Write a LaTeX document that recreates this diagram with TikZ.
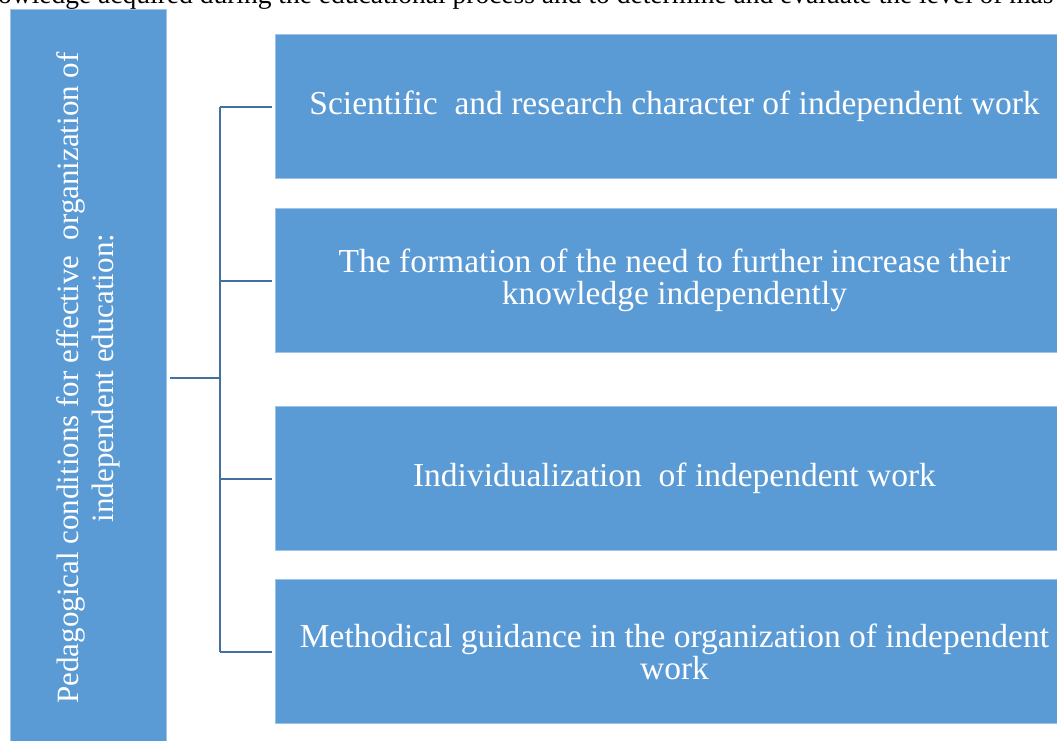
\documentclass[tikz,border=0pt]{standalone}
\usepackage{fontspec}
\setmainfont{Liberation Serif}
\definecolor{boxblue}{HTML}{5B9BD5}
\definecolor{boxedge}{HTML}{9DC3E6}
\definecolor{connblue}{HTML}{41719C}
\begin{document}
\begin{tikzpicture}[x=1pt,y=-1pt,
  bluebox/.style={rectangle, fill=boxblue, draw=boxedge, line width=1pt, anchor=north west,
    text=white, align=center, inner sep=0pt, font=\fontsize{33.5}{32}\selectfont},
  rightbox/.style={bluebox, minimum width=798pt, minimum height=144pt},
  conn/.style={draw=connblue, line width=2pt}]
\useasboundingbox (0,0) rectangle (1057,740);
\clip (0,0) rectangle (1057,740);
\node[anchor=base west, inner sep=0pt, font=\fontsize{27.5}{30}\selectfont] (top) at (-2,3)
  {owledge acquired during the educational process and to determine and evaluate the level of mas};
\node[bluebox, minimum width=156pt, minimum height=751pt] (left) at (10,9) {};
\node[text=white, rotate=90, align=center, inner sep=0pt, font=\fontsize{31}{35}\selectfont] (lefttext) at (88,378)
  {Pedagogical conditions for effective\ \ organization of\\independent education:};
\node[rightbox] (b1) at (275,34) {Scientific\ \ and research character of independent work};
\node[rightbox] (b2) at (275,208) {The formation of the need to further increase their\\knowledge independently};
\node[rightbox] (b3) at (275,406) {Individualization\ \ of independent work};
\node[rightbox] (b4) at (275,579) {Methodical guidance in the organization of independent\\work};
\coordinate (hub) at (220,378);
\draw[conn] ([xshift=3pt]left.east |- hub) -- (hub);
\draw[conn] (hub |- b1.west) -- (hub |- b4.west);
\foreach \b in {b1,b2,b3,b4}
  \draw[conn] (hub |- \b.west) -- ([xshift=-3pt]\b.west);
\end{tikzpicture}
\end{document}
